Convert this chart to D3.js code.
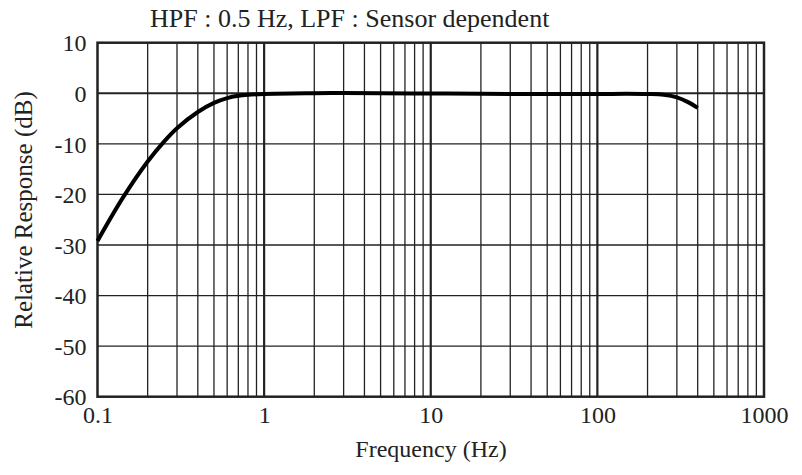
<!DOCTYPE html>
<html><head><meta charset="utf-8">
<script src="https://cdn.jsdelivr.net/npm/d3@7"></script>
<style>body{margin:0;background:#fff}svg{display:block}text{font-family:"Liberation Serif","Times New Roman",serif;fill:#222}</style>
</head><body>
<script>
const freqs = [0.1, 0.143, 0.2, 0.25, 0.3, 0.4, 0.5, 0.6, 0.7, 0.8, 1, 2, 3, 5, 10, 20, 50, 100, 150, 200, 250, 300, 350, 400];
const responseDb = [-29.2, -20.5, -13.5, -9.6, -6.9, -3.7, -1.9, -0.95, -0.5, -0.3, -0.15, 0, 0.05, 0, -0.05, -0.1, -0.15, -0.15, -0.1, -0.15, -0.3, -0.8, -1.75, -2.9];
const xTicks = [0.1, 1, 10, 100, 1000];
const xTickLabels = ["0.1", "1", "10", "100", "1000"];
const yTicks = [10, 0, -10, -20, -30, -40, -50, -60];
const title = "HPF : 0.5 Hz, LPF : Sensor dependent";
const xTitle = "Frequency (Hz)";
const yTitle = "Relative Response (dB)";

const W = 802, H = 475;
const m = {l: 97.5, r: 802 - 764, t: 42.7, b: 475 - 396.7};
const svg = d3.select("body").append("svg").attr("width", W).attr("height", H);
const x = d3.scaleLog().domain([0.1, 1000]).range([m.l, W - m.r]);
const y = d3.scaleLinear().domain([-60, 10]).range([H - m.b, m.t]);

// minor vertical grid
const minor = [];
for (let d = 0.1; d < 1000; d *= 10) for (let k = 2; k <= 9; k++) minor.push(+(d * k).toPrecision(3));
svg.append("g").selectAll("line").data(minor).join("line")
  .attr("x1", d => x(d)).attr("x2", d => x(d)).attr("y1", y(10)).attr("y2", y(-60))
  .attr("stroke", "#222").attr("stroke-width", 1.3);
// horizontal grid
svg.append("g").selectAll("line").data(yTicks).join("line")
  .attr("x1", x(0.1)).attr("x2", x(1000)).attr("y1", d => y(d)).attr("y2", d => y(d))
  .attr("stroke", "#222").attr("stroke-width", d => d === 0 ? 2.2 : 1.3);
// decade lines
svg.append("g").selectAll("line").data([1, 10, 100]).join("line")
  .attr("x1", d => x(d)).attr("x2", d => x(d)).attr("y1", y(10)).attr("y2", y(-60))
  .attr("stroke", "#222").attr("stroke-width", 2.2);
// frame
svg.append("rect").attr("x", x(0.1)).attr("y", y(10)).attr("width", x(1000) - x(0.1)).attr("height", y(-60) - y(10))
  .attr("fill", "none").attr("stroke", "#222").attr("stroke-width", 2.5);

const xAxis = d3.axisBottom(x).tickValues(xTicks).tickFormat((d, i) => xTickLabels[i]).tickSize(0).tickPadding(9);
const gx = svg.append("g").attr("transform", `translate(0,${y(-60)})`).call(xAxis);
gx.select(".domain").remove();
gx.selectAll("text").attr("font-size", 24).attr("fill", "#222").attr("font-family", "Liberation Serif");
const yAxis = d3.axisLeft(y).tickValues(yTicks).tickFormat(d => String(d)).tickSize(0).tickPadding(11);
const gy = svg.append("g").attr("transform", `translate(${x(0.1)},0)`).call(yAxis);
gy.select(".domain").remove();
gy.selectAll("text").attr("font-size", 24).attr("fill", "#222").attr("font-family", "Liberation Serif").attr("dy", "0.34em");

const pts = freqs.map((f, i) => [f, responseDb[i]]);
svg.append("path").datum(pts)
  .attr("d", d3.line().x(d => x(d[0])).y(d => y(d[1])).curve(d3.curveCatmullRom.alpha(0.5)))
  .attr("fill", "none").attr("stroke", "#000").attr("stroke-width", 4).attr("stroke-linejoin", "round");

svg.append("text").attr("x", 150).attr("y", 27).attr("font-size", 26).text(title);
svg.append("text").attr("x", 431).attr("y", 457).attr("text-anchor", "middle").attr("font-size", 24).text(xTitle);
svg.append("text").attr("transform", `translate(32,210) rotate(-90)`).attr("text-anchor", "middle").attr("font-size", 25).text(yTitle);
</script>
</body></html>
